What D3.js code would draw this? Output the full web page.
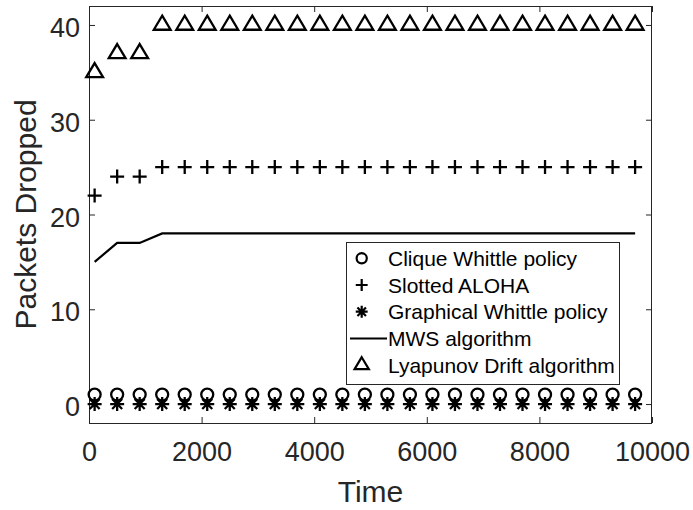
<!DOCTYPE html>
<html>
<head>
<meta charset="utf-8">
<script src="https://cdn.jsdelivr.net/npm/d3@7"></script>
<style>
  body { margin: 0; background: #fff; }
  svg { display: block; font-family: "Liberation Sans", Arial, Helvetica, sans-serif; }
</style>
</head>
<body>
<svg id="chart" width="693" height="510"></svg>
<script>
// sample times (x) shared by every series
var times = [100, 500, 900, 1300, 1700, 2100, 2500, 2900, 3300, 3700, 4100, 4500, 4900,
             5300, 5700, 6100, 6500, 6900, 7300, 7700, 8100, 8500, 8900, 9300, 9700];

var cliqueWhittle = [1, 1, 1, 1, 1, 1, 1, 1, 1, 1, 1, 1, 1, 1, 1, 1, 1, 1, 1, 1, 1, 1, 1, 1, 1];
var slottedAloha = [22, 24, 24, 25, 25, 25, 25, 25, 25, 25, 25, 25, 25, 25, 25, 25, 25, 25, 25, 25, 25, 25, 25, 25, 25];
var graphicalWhittle = [0, 0, 0, 0, 0, 0, 0, 0, 0, 0, 0, 0, 0, 0, 0, 0, 0, 0, 0, 0, 0, 0, 0, 0, 0];
var mws = [15, 17, 17, 18, 18, 18, 18, 18, 18, 18, 18, 18, 18, 18, 18, 18, 18, 18, 18, 18, 18, 18, 18, 18, 18];
var lyapunov = [35, 37, 37, 40, 40, 40, 40, 40, 40, 40, 40, 40, 40, 40, 40, 40, 40, 40, 40, 40, 40, 40, 40, 40, 40];

var xTicks = [0, 2000, 4000, 6000, 8000, 10000];
var yTicks = [0, 10, 20, 30, 40];

var legendLabels = ["Clique Whittle policy", "Slotted ALOHA", "Graphical Whittle policy",
                    "MWS algorithm", "Lyapunov Drift algorithm"];
var legendKinds = ["circle", "plus", "star", "line", "triangle"];

var margin = {top: 6, right: 41, bottom: 87, left: 89},
    width = 693 - margin.left - margin.right,   // 563
    height = 510 - margin.top - margin.bottom,  // 417
    axisColor = "#262626";

var svg = d3.select("#chart");

var xScale = d3.scaleLinear().domain([0, 10000]).range([0, width]);
var yScale = d3.scaleLinear().domain([-2, 42]).range([height, 0]);

var g = svg.append("g")
    .attr("transform", "translate(" + margin.left + "," + margin.top + ")");

// marker paths, drawn around (0,0)
function markerPath(kind, s) {
    var p = d3.path();
    if (kind === "circle") {
        p.moveTo(6 * s, 0);
        p.arc(0, 0, 6 * s, 0, 2 * Math.PI);
    } else if (kind === "plus") {
        p.moveTo(-7 * s, 0); p.lineTo(7 * s, 0);
        p.moveTo(0, -7 * s); p.lineTo(0, 7 * s);
    } else if (kind === "star") {
        p.moveTo(-7 * s, 0); p.lineTo(7 * s, 0);
        p.moveTo(0, -7 * s); p.lineTo(0, 7 * s);
        p.moveTo(-5 * s, -5 * s); p.lineTo(5 * s, 5 * s);
        p.moveTo(-5 * s, 5 * s); p.lineTo(5 * s, -5 * s);
    } else if (kind === "triangle") {
        p.moveTo(0, -9.3 * s);
        p.lineTo(8.4 * s, 4.8 * s);
        p.lineTo(-8.4 * s, 4.8 * s);
        p.closePath();
    }
    return p.toString();
}

// axes with inward ticks on all four sides
function styleAxis(sel) {
    sel.select(".domain").remove();
    sel.selectAll(".tick line").attr("stroke", axisColor);
    sel.selectAll(".tick text")
        .attr("fill", axisColor)
        .style("font-size", "27px");
}

g.append("g")
    .attr("transform", "translate(0," + height + ")")
    .call(d3.axisBottom(xScale).tickValues(xTicks).tickFormat(d3.format("d"))
        .tickSizeInner(-6).tickSizeOuter(0).tickPadding(19))
    .call(styleAxis);

g.append("g")
    .call(d3.axisTop(xScale).tickValues(xTicks).tickSizeInner(-6).tickSizeOuter(0).tickFormat(""))
    .call(styleAxis);

g.append("g")
    .call(d3.axisLeft(yScale).tickValues(yTicks).tickSizeInner(-6).tickSizeOuter(0).tickPadding(9))
    .call(styleAxis)
    .selectAll(".tick text").attr("dy", "0.43em");

g.append("g")
    .attr("transform", "translate(" + width + ",0)")
    .call(d3.axisRight(yScale).tickValues(yTicks).tickSizeInner(-6).tickSizeOuter(0).tickFormat(""))
    .call(styleAxis);

g.append("rect")
    .attr("x", 0.5).attr("y", 0.5)
    .attr("width", width - 1).attr("height", height)
    .attr("fill", "none")
    .attr("stroke", axisColor)
    .attr("stroke-width", 1);

// MWS line
var line = d3.line()
    .x(function (d, i) { return xScale(times[i]); })
    .y(function (d) { return yScale(d); });

g.append("path")
    .datum(mws)
    .attr("d", line)
    .attr("fill", "none")
    .attr("stroke", "#000")
    .attr("stroke-width", 2.2);

// marker series
var series = [
    {values: cliqueWhittle, kind: "circle"},
    {values: slottedAloha, kind: "plus"},
    {values: graphicalWhittle, kind: "star"},
    {values: lyapunov, kind: "triangle"}
];

series.forEach(function (s) {
    g.append("g").selectAll("path")
        .data(s.values).enter().append("path")
        .attr("transform", function (d, i) {
            return "translate(" + xScale(times[i]) + "," + yScale(d) + ")";
        })
        .attr("d", markerPath(s.kind, 1))
        .attr("fill", "none")
        .attr("stroke", "#000")
        .attr("stroke-width", 2.3);
});

// legend
var legend = svg.append("g").attr("transform", "translate(346,242)");
legend.append("rect")
    .attr("x", 0.5).attr("y", 0.5)
    .attr("width", 273).attr("height", 142)
    .attr("fill", "#fff")
    .attr("stroke", axisColor)
    .attr("stroke-width", 1);

legendLabels.forEach(function (label, i) {
    var cy = 16.3 + i * 26.7;
    var kind = legendKinds[i];
    if (kind === "line") {
        legend.append("line")
            .attr("x1", 4).attr("x2", 41)
            .attr("y1", cy).attr("y2", cy)
            .attr("stroke", "#000").attr("stroke-width", 2);
    } else {
        legend.append("path")
            .attr("transform", "translate(15.7," + cy + ")")
            .attr("d", markerPath(kind, 0.85))
            .attr("fill", "none")
            .attr("stroke", "#000")
            .attr("stroke-width", 2.2);
    }
    legend.append("text")
        .attr("x", 42).attr("y", cy + 7.5)
        .attr("fill", "#000")
        .style("font-size", "21px")
        .text(label);
});

// axis titles
svg.append("text")
    .attr("x", margin.left + width / 2).attr("y", 501.5)
    .attr("text-anchor", "middle")
    .attr("fill", axisColor)
    .style("font-size", "30px")
    .text("Time");

svg.append("text")
    .attr("transform", "translate(36," + (margin.top + height / 2) + ") rotate(-90)")
    .attr("text-anchor", "middle")
    .attr("fill", axisColor)
    .style("font-size", "30px")
    .text("Packets Dropped");
</script>
</body>
</html>
